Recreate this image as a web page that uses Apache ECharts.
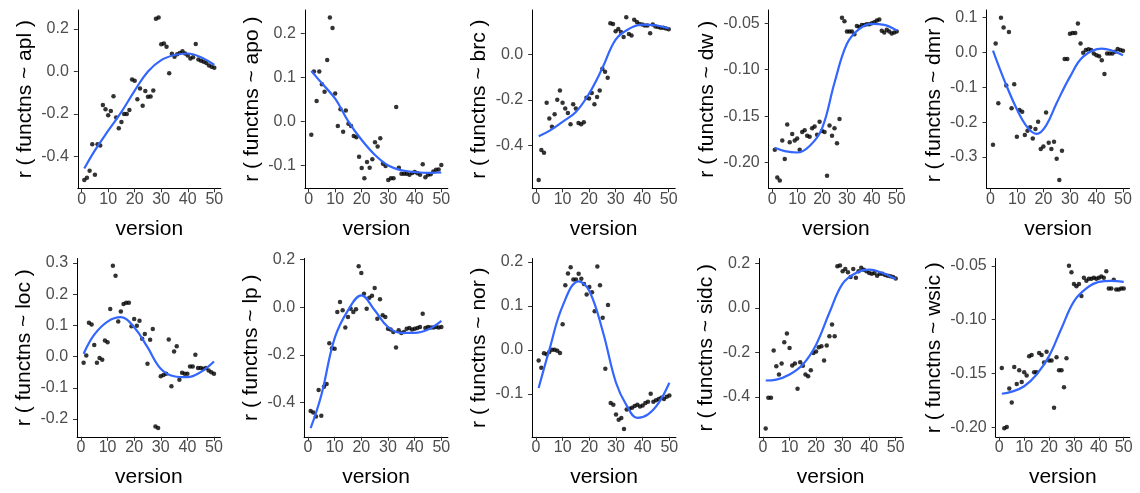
<!DOCTYPE html>
<html>
<head>
<meta charset="utf-8">
<script src="https://cdn.jsdelivr.net/npm/echarts@6/dist/echarts.min.js"></script>
<style>
  html, body { margin: 0; background: #fff; }
  #chart { width: 1140px; height: 493px; }
</style>
</head>
<body>
<div id="chart"></div>
<script>
// versions on the x axis
var versions = [1,2,3,4,5,6,7,8,9,10,11,12,13,14,15,16,17,18,19,20,21,22,23,24,25,
  26,27,28,29,30,31,32,33,34,35,36,37,38,39,40,41,42,43,44,45,46,47,48,49,50];
var xTicks = [0, 10, 20, 30, 40, 50];

// r values per metric (points)
var apl = [-0.509,-0.498,-0.466,-0.341,-0.484,-0.342,-0.347,-0.158,-0.177,-0.205,
  -0.186,-0.116,-0.216,-0.267,-0.237,-0.2,-0.2,-0.181,-0.038,-0.044,
  -0.131,-0.08,-0.161,-0.092,-0.119,-0.117,-0.09,0.247,0.253,0.127,
  0.131,0.116,-0.009,0.083,0.069,0.08,0.086,0.095,0.084,0.075,
  0.061,0.066,0.128,0.056,0.05,0.045,0.04,0.028,0.022,0.017];
var apo = [-0.030,0.114,0.047,0.114,0.085,0.068,0.14,0.237,0.213,0.064,
  -0.010,0.028,-0.023,0.025,-0.005,-0.010,-0.033,-0.036,-0.080,-0.106,
  -0.129,-0.092,-0.105,-0.086,-0.047,-0.057,-0.038,-0.096,-0.101,-0.133,
  -0.129,-0.129,0.033,-0.105,-0.119,-0.119,-0.119,-0.121,-0.117,-0.115,
  -0.118,-0.121,-0.097,-0.127,-0.121,-0.120,-0.114,-0.110,-0.109,-0.099];
var brc = [-0.552,-0.420,-0.432,-0.212,-0.282,-0.318,-0.263,-0.199,-0.158,-0.212,
  -0.238,-0.257,-0.307,-0.219,-0.238,-0.301,-0.307,-0.298,-0.19,-0.194,
  -0.169,-0.219,-0.187,-0.158,-0.063,-0.076,-0.102,0.137,0.134,0.102,
  0.112,0.098,0.076,0.163,0.09,0.083,0.152,0.142,0.134,0.131,
  0.127,0.127,0.093,0.131,0.123,0.12,0.117,0.117,0.114,0.111];
var dw = [-0.186,-0.216,-0.219,-0.176,-0.196,-0.159,-0.178,-0.169,-0.176,-0.174,
  -0.186,-0.167,-0.165,-0.171,-0.172,-0.163,-0.161,-0.17,-0.156,-0.166,
  -0.167,-0.214,-0.160,-0.171,-0.163,-0.179,-0.153,-0.044,-0.048,-0.059,
  -0.059,-0.059,-0.062,-0.053,-0.054,-0.052,-0.052,-0.051,-0.051,-0.05,
  -0.049,-0.047,-0.046,-0.058,-0.060,-0.057,-0.059,-0.061,-0.060,-0.059];
var dmr = [-0.265,0.026,-0.146,0.1,0.072,-0.095,0.059,-0.16,-0.091,-0.242,
  -0.165,-0.17,-0.237,-0.225,-0.215,-0.247,-0.22,-0.199,-0.277,-0.27,
  -0.172,-0.259,-0.277,-0.256,-0.305,-0.366,-0.282,-0.019,-0.019,0.054,
  0.056,0.056,0.083,0.026,-0.001,0.007,0.009,0.007,-0.003,-0.008,
  -0.011,-0.022,-0.062,-0.003,-0.003,-0.003,0.002,0.01,0.007,0.005];
var loc = [-0.020,0.003,0.108,0.103,0.037,-0.020,-0.005,-0.010,0.051,0.046,
  0.152,0.291,0.259,0.112,0.144,0.168,0.172,0.172,0.097,0.12,
  0.099,0.115,0.057,0.072,-0.023,0.054,0.088,-0.224,-0.229,-0.063,
  -0.059,-0.055,0.055,-0.095,0.016,0.033,-0.074,-0.052,-0.055,-0.055,
  -0.032,-0.032,0.006,-0.037,-0.037,-0.039,-0.037,-0.045,-0.05,-0.055];
var lp = [-0.436,-0.443,-0.46,-0.348,-0.456,-0.334,-0.323,-0.152,-0.173,-0.175,
  -0.02,0.022,-0.013,-0.085,-0.041,-0.006,-0.02,-0.008,0.172,0.144,
  0.057,-0.006,0.04,0.048,0.081,-0.048,0.034,-0.034,-0.041,-0.09,
  -0.094,-0.104,-0.169,-0.097,-0.108,-0.104,-0.09,-0.087,-0.094,-0.09,
  -0.087,-0.083,-0.027,-0.087,-0.083,-0.085,-0.085,-0.083,-0.085,-0.083];
var nor = [-0.024,-0.041,-0.008,-0.01,-0.005,0.0,0.0,-0.002,-0.007,0.058,
  0.147,0.174,0.188,0.16,0.16,0.173,0.162,0.15,0.126,0.143,
  0.131,0.088,0.19,0.147,0.073,-0.043,0.102,-0.121,-0.125,-0.147,
  -0.159,-0.155,-0.18,-0.136,-0.134,-0.132,-0.128,-0.125,-0.129,-0.127,
  -0.121,-0.118,-0.1,-0.118,-0.115,-0.112,-0.109,-0.112,-0.107,-0.104];
var sidc = [-0.542,-0.404,-0.404,-0.191,-0.262,-0.299,-0.25,-0.154,-0.115,-0.18,
  -0.259,-0.25,-0.363,-0.244,-0.26,-0.299,-0.307,-0.28,-0.202,-0.196,
  -0.177,-0.172,-0.236,-0.169,-0.127,-0.075,-0.127,0.187,0.19,0.165,
  0.175,0.16,0.139,0.175,0.135,0.165,0.18,0.172,0.165,0.157,
  0.154,0.157,0.145,0.154,0.154,0.148,0.145,0.142,0.139,0.132];
var wsic = [-0.145,-0.201,-0.2,-0.164,-0.177,-0.144,-0.16,-0.147,-0.158,-0.149,
  -0.152,-0.134,-0.133,-0.149,-0.149,-0.131,-0.133,-0.14,-0.13,-0.138,
  -0.138,-0.182,-0.135,-0.147,-0.147,-0.163,-0.136,-0.05,-0.056,-0.067,
  -0.069,-0.067,-0.078,-0.061,-0.064,-0.062,-0.062,-0.061,-0.062,-0.061,
  -0.06,-0.061,-0.055,-0.071,-0.071,-0.063,-0.072,-0.072,-0.071,-0.071];

// smoothed fit (read at these versions)
var fitX = [1, 5, 10, 15, 20, 25, 30, 35, 40, 45, 50];
var aplFit  = [-0.455,-0.37,-0.278,-0.19,-0.09,0.0,0.053,0.077,0.084,0.066,0.03];
var apoFit  = [0.115,0.087,0.052,0.0,-0.042,-0.076,-0.1,-0.111,-0.115,-0.117,-0.116];
var brcFit  = [-0.359,-0.336,-0.296,-0.253,-0.172,-0.06,0.065,0.112,0.131,0.128,0.114];
var dwFit   = [-0.184,-0.1875,-0.189,-0.182,-0.163,-0.114,-0.072,-0.056,-0.0507,-0.0518,-0.0579];
var dmrFitX = [1, 5, 10, 14, 17.5, 21, 25, 30, 35, 42, 50];
var dmrFit  = [0.005,-0.075,-0.163,-0.215,-0.234,-0.21,-0.145,-0.07,-0.012,0.011,-0.008];
var locFit  = [0.009,0.07,0.112,0.126,0.094,0.03,-0.039,-0.063,-0.066,-0.05,-0.016];
var lpFit   = [-0.509,-0.37,-0.13,-0.013,0.05,-0.013,-0.083,-0.108,-0.108,-0.094,-0.057];
var norFitX = [1, 5, 10, 16, 20, 25, 30, 34, 38, 42, 46, 50];
var norFit  = [-0.087,0.0,0.1,0.156,0.134,0.043,-0.075,-0.127,-0.155,-0.147,-0.121,-0.075];
var sidcFit = [-0.326,-0.322,-0.299,-0.254,-0.165,-0.022,0.109,0.157,0.172,0.157,0.13];
var wsicFit = [-0.169,-0.167,-0.162,-0.151,-0.134,-0.108,-0.083,-0.071,-0.065,-0.064,-0.065];

// y tick labels
var ticksApl  = [-0.4, -0.2, 0.0, 0.2];
var ticksApo  = [-0.1, 0.0, 0.1, 0.2];
var ticksBrc  = [-0.4, -0.2, 0.0];
var ticksDw   = [-0.20, -0.15, -0.10, -0.05];
var ticksDmr  = [-0.3, -0.2, -0.1, 0.0, 0.1];
var ticksLoc  = [-0.2, -0.1, 0.0, 0.1, 0.2, 0.3];
var ticksLp   = [-0.4, -0.2, 0.0, 0.2];
var ticksNor  = [-0.1, 0.0, 0.1, 0.2];
var ticksSidc = [-0.4, -0.2, 0.0, 0.2];
var ticksWsic = [-0.20, -0.15, -0.10, -0.05];

var panels = [
  { name: 'apl',  pts: apl,  fx: fitX,    fy: aplFit,  ticks: ticksApl,  dec: 1, min: -0.548, max: 0.288,  left: 77.8,  width: 143,   top: 10 },
  { name: 'apo',  pts: apo,  fx: fitX,    fy: apoFit,  ticks: ticksApo,  dec: 1, min: -0.152, max: 0.254,  left: 304.8, width: 143,   top: 10 },
  { name: 'brc',  pts: brc,  fx: fitX,    fy: brcFit,  ticks: ticksBrc,  dec: 1, min: -0.588, max: 0.195,  left: 532.2, width: 143,   top: 10 },
  { name: 'dw',   pts: dw,   fx: fitX,    fy: dwFit,   ticks: ticksDw,   dec: 2, min: -0.2275, max: -0.0358, left: 768.7, width: 134.1, top: 10 },
  { name: 'dmr',  pts: dmr,  fx: dmrFitX, fy: dmrFit,  ticks: ticksDmr,  dec: 1, min: -0.39,  max: 0.122,  left: 986.5, width: 143,   top: 10 },
  { name: 'loc',  pts: loc,  fx: fitX,    fy: locFit,  ticks: ticksLoc,  dec: 1, min: -0.257, max: 0.314,  left: 77.1,  width: 143.4, top: 258.5 },
  { name: 'lp',   pts: lp,   fx: fitX,    fy: lpFit,   ticks: ticksLp,   dec: 1, min: -0.545, max: 0.205,  left: 304.1, width: 143.8, top: 258.5 },
  { name: 'nor',  pts: nor,  fx: norFitX, fy: norFit,  ticks: ticksNor,  dec: 1, min: -0.198, max: 0.208,  left: 532.1, width: 143.8, top: 258.5 },
  { name: 'sidc', pts: sidc, fx: fitX,    fy: sidcFit, ticks: ticksSidc, dec: 1, min: -0.579, max: 0.222,  left: 759.2, width: 143,   top: 258.5 },
  { name: 'wsic', pts: wsic, fx: fitX,    fy: wsicFit, ticks: ticksWsic, dec: 2, min: -0.209, max: -0.0432, left: 995.7, width: 134.1, top: 258.5 }
];

var font = 'Liberation Sans, Arial, sans-serif';
var grids = [], xAxes = [], yAxes = [], series = [];

panels.forEach(function (p, i) {
  grids.push({ left: p.left, width: p.width, top: p.top, height: 178.3, outerBoundsMode: 'none' });
  xAxes.push({
    gridIndex: i, type: 'value', min: -1.45, max: 52.45,
    name: 'version', nameLocation: 'middle', nameGap: 30,
    nameTextStyle: { fontSize: 21, color: '#000', fontFamily: font },
    axisLine: { show: true, onZero: false, lineStyle: { color: '#000', width: 1 } },
    axisTick: { show: true, length: 4, lineStyle: { color: '#333' }, customValues: xTicks },
    axisLabel: { customValues: xTicks, fontSize: 16, color: '#4D4D4D', fontFamily: font, margin: 3 },
    splitLine: { show: false }
  });
  yAxes.push({
    gridIndex: i, type: 'value', min: p.min, max: p.max,
    name: 'r ( functns ~ ' + p.name + ' )', nameLocation: 'middle', nameRotate: 90,
    nameGap: p.dec === 2 ? 51 : 42,
    nameTextStyle: { fontSize: 21, color: '#000', fontFamily: font },
    axisLine: { show: true, onZero: false, lineStyle: { color: '#000', width: 1 } },
    axisTick: { show: true, length: 4, lineStyle: { color: '#333' }, customValues: p.ticks },
    axisLabel: {
      customValues: p.ticks, fontSize: 16, color: '#4D4D4D', fontFamily: font, margin: 9,
      formatter: (function (d) { return function (v) { return v.toFixed(d); }; })(p.dec)
    },
    splitLine: { show: false }
  });
  series.push({
    type: 'scatter', xAxisIndex: i, yAxisIndex: i,
    data: versions.map(function (v, k) { return [v, p.pts[k]]; }),
    symbol: 'circle', symbolSize: 4.5, itemStyle: { color: '#000' }, z: 2
  });
  series.push({
    type: 'line', xAxisIndex: i, yAxisIndex: i,
    data: p.fx.map(function (v, k) { return [v, p.fy[k]]; }),
    smooth: 0.4, showSymbol: false,
    lineStyle: { color: '#3366FF', width: 2.2 }, z: 3
  });
});

var chart = echarts.init(document.getElementById('chart'));
chart.setOption({
  animation: false,
  backgroundColor: '#fff',
  grid: grids,
  xAxis: xAxes,
  yAxis: yAxes,
  series: series
});
</script>
</body>
</html>
